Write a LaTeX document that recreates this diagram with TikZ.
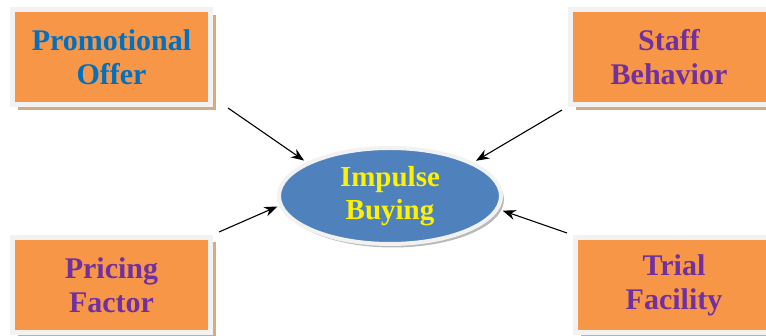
\documentclass[tikz,border=0pt]{standalone}
\usepackage{fontspec}
\setmainfont{Liberation Serif}[BoldFont={Liberation Serif Bold}]
\usetikzlibrary{shapes.geometric, arrows.meta, positioning, shadows}
\definecolor{boxorange}{HTML}{F79646}
\definecolor{framegrey}{HTML}{F2F2F2}
\definecolor{shadowtan}{RGB}{214,170,130}
\definecolor{ovalblue}{HTML}{4F81BD}
\definecolor{textblue}{HTML}{0070C0}
\definecolor{textpurple}{HTML}{7030A0}

\begin{document}
\begin{tikzpicture}[
    x=1pt, y=1pt,
    factor/.style={draw=framegrey, line width=5pt, fill=boxorange, minimum width=198pt, minimum height=95pt, inner sep=0pt, align=center,
        font=\rmfamily\bfseries\fontsize{30}{34}\selectfont, text=textpurple,
        drop shadow={shadow xshift=5.5pt, shadow yshift=-5pt, fill=shadowtan, opacity=1}},
    outcome/.style={ellipse, draw=framegrey, line width=4pt, fill=ovalblue, minimum width=222pt, minimum height=96pt, inner sep=0pt, align=center,
        font=\rmfamily\bfseries\fontsize{29}{33}\selectfont, text=yellow,
        drop shadow={shadow xshift=3pt, shadow yshift=-3.5pt, fill=gray!55, opacity=1}},
    influence/.style={-{Stealth[length=13pt, width=10pt]}, line width=1.1pt, black}
]
    \useasboundingbox (0,0) rectangle (766,336);
    \clip (0,0) rectangle (766,336);

    % Factors
    \node[factor, text=textblue] (promo) at (111.5,278.5) {Promotional\\Offer};
    \node[factor] (staff) at (669,278.5) {Staff\\Behavior};
    \node[factor] (pricing) at (111.5,51) {Pricing\\Factor};
    \node[factor] (trial) at (674,51) {Trial\\Facility};

    % Outcome
    \node[outcome] (impulse) at (390,140) {Impulse\\Buying};

    % Arrow tails
    \coordinate (promo-out) at (228,228);
    \coordinate (staff-out) at (562,226);
    \coordinate (pricing-out) at (219,104);
    \coordinate (trial-out) at (567,103);

    % Influence arrows
    \draw[influence, shorten >=3pt] (promo-out) -- (impulse.158);
    \draw[influence, shorten >=3pt] (staff-out) -- (impulse.22);
    \draw[influence, shorten >=2pt] (pricing-out) -- (impulse.185);
    \draw[influence, shorten >=4pt] (trial-out) -- (impulse.-7);
\end{tikzpicture}
\end{document}
